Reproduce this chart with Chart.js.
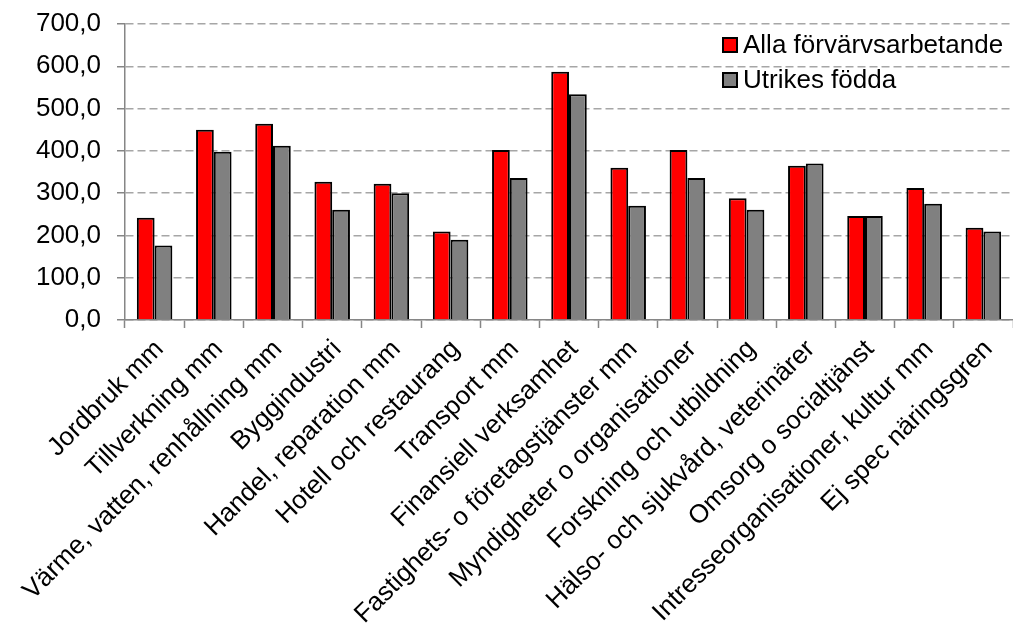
<!DOCTYPE html>
<html>
<head>
<meta charset="utf-8">
<script src="https://cdn.jsdelivr.net/npm/chart.js@4.4.1/dist/chart.umd.min.js"></script>
<style>
    html, body { margin: 0; padding: 0; background: #fff; }
    #wrap { width: 1013px; height: 629px; position: relative; }
</style>
</head>
<body>
<div id="wrap"><canvas id="chart"></canvas></div>
<script>
const categories = [
    'Jordbruk mm',
    'Tillverkning mm',
    'Värme, vatten, renhållning mm',
    'Byggindustri',
    'Handel, reparation mm',
    'Hotell och restaurang',
    'Transport mm',
    'Finansiell verksamhet',
    'Fastighets- o företagstjänster mm',
    'Myndigheter o organisationer',
    'Forskning och utbildning',
    'Hälso- och sjukvård, veterinärer',
    'Omsorg o socialtjänst',
    'Intresseorganisationer, kultur mm',
    'Ej spec näringsgren'
];
const allaValues = [242, 450, 464, 327, 322, 209, 402, 587, 360, 402, 288, 365, 246, 312, 218];
const utrikesValues = [176, 398, 412, 261, 300, 190, 336, 534, 270, 336, 261, 370, 246, 275, 209];
const seriesNames = ['Alla förvärvsarbetande', 'Utrikes födda'];
const yTicks = [0, 100, 200, 300, 400, 500, 600, 700];

const FONT = 'Liberation Sans, Arial, sans-serif';
const AXIS = '#868686';

// legend drawn inside the plot, top right
const insideLegend = {
    id: 'insideLegend',
    afterDraw(chart) {
        const ctx = chart.ctx;
        ctx.save();
        ctx.font = '26px ' + FONT;
        ctx.textBaseline = 'middle';
        chart.data.datasets.forEach((ds, i) => {
            const y = 45 + i * 35;
            ctx.fillStyle = ds.backgroundColor;
            ctx.fillRect(723, y - 7, 14, 14);
            ctx.lineWidth = 2;
            ctx.strokeStyle = '#000';
            ctx.strokeRect(723, y - 7, 14, 14);
            ctx.fillStyle = '#000';
            ctx.fillText(ds.label, 743, y + 1);
        });
        ctx.restore();
    }
};

new Chart(document.getElementById('chart'), {
    type: 'bar',
    data: {
        labels: categories,
        datasets: [{
            label: seriesNames[0],
            data: allaValues,
            backgroundColor: '#ff0000',
            borderColor: '#000',
            borderWidth: 2,
            categoryPercentage: 0.6,
            barPercentage: 1.0
        }, {
            label: seriesNames[1],
            data: utrikesValues,
            backgroundColor: '#808080',
            borderColor: '#000',
            borderWidth: 2,
            categoryPercentage: 0.6,
            barPercentage: 1.0
        }]
    },
    options: {
        responsive: true,
        maintainAspectRatio: false,
        animation: false,
        layout: { padding: { top: 0, right: 0, left: 0, bottom: 0 } },
        plugins: {
            legend: { display: false },
            tooltip: { enabled: false }
        },
        scales: {
            x: {
                offset: true,
                grid: {
                    offset: true,
                    drawOnChartArea: false,
                    drawTicks: true,
                    tickLength: 8,
                    tickColor: AXIS,
                    tickWidth: 1.5
                },
                border: { color: AXIS, width: 1.5 },
                ticks: {
                    color: '#000',
                    font: { family: FONT, size: 26 },
                    minRotation: 45,
                    maxRotation: 45,
                    autoSkip: false,
                    padding: 6,
                    labelOffset: 5
                },
                afterFit(scale) { scale.height = 309; }
            },
            y: {
                min: 0,
                max: 700,
                afterBuildTicks(scale) {
                    scale.ticks = yTicks.map(v => ({ value: v }));
                },
                grid: {
                    color: '#a6a6a6',
                    lineWidth: 1.5,
                    tickLength: 8,
                    tickColor: AXIS,
                    tickWidth: 1.5
                },
                border: { color: AXIS, width: 1.5, dash: [8, 4] },
                ticks: {
                    color: '#000',
                    font: { family: FONT, size: 26, lineHeight: 1 },
                    padding: 16,
                    callback: v => v.toFixed(1).replace('.', ',')
                },
                afterFit(scale) {
                    scale.width = 125;
                    scale.paddingTop = 24;
                }
            }
        }
    },
    plugins: [insideLegend]
});
</script>
</body>
</html>
